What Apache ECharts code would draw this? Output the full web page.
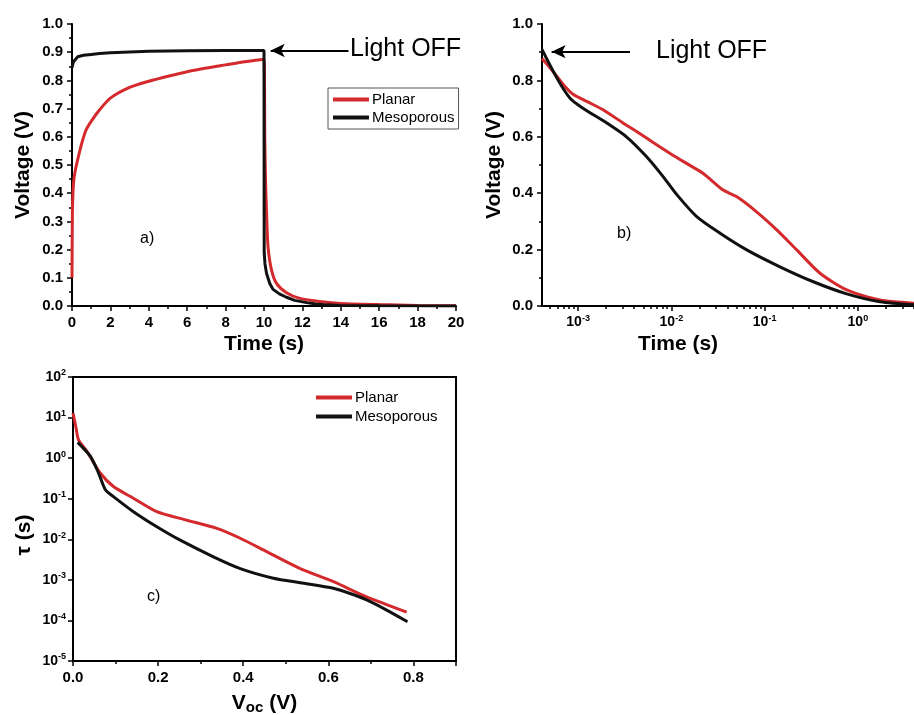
<!DOCTYPE html>
<html>
<head>
<meta charset="utf-8">
<script src="https://cdn.jsdelivr.net/npm/echarts@6/dist/echarts.min.js"></script>
<style>html,body{margin:0;padding:0;background:#fff;}#c{width:914px;height:715px;}</style>
</head>
<body>
<div id="c"></div>
<script>
// ---------- data ----------
// Panel a) transient Voc vs time (linear)
const aTimePlanar = [0, 0.02, 0.05, 0.1, 0.2, 0.3, 0.5, 0.73, 1.0, 1.43, 2, 3, 4, 5, 6, 7, 8, 9, 10, 10.04, 10.08, 10.14, 10.21, 10.39, 10.65, 11.17, 11.87, 13, 14, 16, 18, 20];
const aVoltPlanar = [0.10, 0.33, 0.40, 0.45, 0.49, 0.52, 0.575, 0.624, 0.655, 0.695, 0.737, 0.775, 0.797, 0.815, 0.831, 0.844, 0.855, 0.866, 0.875, 0.60, 0.447, 0.317, 0.21, 0.128, 0.08, 0.047, 0.027, 0.015, 0.009, 0.005, 0.002, 0.0005];
const aTimeMeso = [0, 0.05, 0.1, 0.3, 0.6, 1.0, 1.43, 2, 3, 4, 6, 8, 10, 10.01, 10.05, 10.13, 10.3, 10.47, 10.8, 11.17, 11.6, 12.22, 12.7, 13.26, 14, 16, 20];
const aVoltMeso = [0.845, 0.86, 0.868, 0.884, 0.889, 0.892, 0.895, 0.898, 0.901, 0.903, 0.905, 0.906, 0.906, 0.19, 0.15, 0.116, 0.08, 0.059, 0.043, 0.031, 0.02, 0.012, 0.007, 0.004, 0.002, 0.001, 0.0];
// Panel b) decay vs log time
const bTimePlanar = [0.00041, 0.0005, 0.0007, 0.00089, 0.00125, 0.00187, 0.003, 0.00427, 0.0065, 0.0097, 0.015, 0.022, 0.036, 0.05, 0.082, 0.135, 0.221, 0.393, 0.76, 1.73, 4.0];
const bVoltPlanar = [0.878, 0.845, 0.784, 0.75, 0.725, 0.695, 0.65, 0.618, 0.578, 0.541, 0.503, 0.47, 0.411, 0.388, 0.334, 0.27, 0.199, 0.116, 0.057, 0.021, 0.01];
const bTimeMeso = [0.00041, 0.00082, 0.00205, 0.0033, 0.0054, 0.0082, 0.0115, 0.0187, 0.0333, 0.0643, 0.146, 0.333, 0.76, 1.73, 4.0];
const bVoltMeso = [0.91, 0.737, 0.648, 0.60, 0.53, 0.458, 0.394, 0.317, 0.258, 0.199, 0.139, 0.086, 0.043, 0.015, 0.004];
// Panel c) lifetime vs Voc
const cVocPlanar = [0.0, 0.0065, 0.013, 0.033, 0.064, 0.095, 0.142, 0.197, 0.26, 0.338, 0.393, 0.456, 0.534, 0.612, 0.69, 0.784];
const cTauPlanar = [12.9, 6.1, 2.83, 1.46, 0.43, 0.2, 0.103, 0.048, 0.031, 0.0186, 0.0106, 0.0049, 0.0019, 0.0009, 0.00038, 0.00016];
const cVocMeso = [0.011, 0.041, 0.06, 0.076, 0.095, 0.142, 0.197, 0.252, 0.33, 0.393, 0.471, 0.534, 0.612, 0.651, 0.69, 0.737, 0.786];
const cTauMeso = [2.44, 1.1, 0.43, 0.166, 0.113, 0.048, 0.0204, 0.0095, 0.0037, 0.0019, 0.0011, 0.00085, 0.00062, 0.00046, 0.00032, 0.00018, 0.000093];
// tick values
const bMajorTicks = [0.001, 0.01, 0.1, 1];
const bMinorTicks = [0.0005, 0.0006, 0.0007, 0.0008, 0.0009, 0.002, 0.003, 0.004, 0.005, 0.006, 0.007, 0.008, 0.009, 0.02, 0.03, 0.04, 0.05, 0.06, 0.07, 0.08, 0.09, 0.2, 0.3, 0.4, 0.5, 0.6, 0.7, 0.8, 0.9, 2, 3, 4];
const cMajorTicks = [1e-5, 1e-4, 1e-3, 1e-2, 1e-1, 1, 10, 100];
const seriesNames = ['Planar', 'Mesoporous'];

// ---------- styling ----------
const F = 'Liberation Sans, Arial, sans-serif';
const RED = '#d42a2d', BLK = '#111111';
const zip = (xs, ys) => xs.map((x, i) => [x, ys[i]]);
const lineAxis = { show: true, lineStyle: { color: '#000', width: 2 } };
const tick = { show: true, length: 5, lineStyle: { color: '#000', width: 1.5 } };
const minor = (n) => ({ show: true, splitNumber: n, length: 3, lineStyle: { color: '#000', width: 1.5 } });
const lab = (extra) => Object.assign({ color: '#000', fontFamily: F, fontWeight: 'bold', fontSize: 15, margin: 9 }, extra || {});
const nameStyle = (extra) => Object.assign({ color: '#000', fontFamily: F, fontWeight: 'bold', fontSize: 21 }, extra || {});
const powRich = {
  b: { fontSize: 14, fontWeight: 'bold', fontFamily: F, color: '#000', lineHeight: 17 },
  s: { fontSize: 9, fontWeight: 'bold', fontFamily: F, color: '#000', lineHeight: 9, verticalAlign: 'top' }
};
const powFmt = (v) => '{b|10}{s|' + Math.round(Math.log10(v)) + '}';

function line(name, data, color, x, y, extra) {
  return Object.assign({
    name: name, type: 'line', xAxisIndex: x, yAxisIndex: y, data: data,
    showSymbol: false, symbol: 'none', clip: true,
    smooth: 0.25,
    lineStyle: { color: color, width: 3 }, itemStyle: { color: color },
    animation: false
  }, extra || {});
}
function arrowMark(from, to) {
  return {
    silent: true, symbol: ['none', 'arrow'], symbolSize: [10, 14],
    lineStyle: { color: '#000', width: 2, type: 'solid' }, label: { show: false },
    data: [[{ coord: from }, { coord: to }]]
  };
}

const option = {
  backgroundColor: '#fff',
  animation: false,
  grid: [
    { left: 72, top: 24, width: 384, height: 282, outerBoundsMode: 'none' },
    { left: 542, top: 24, width: 372, height: 282, outerBoundsMode: 'none' },
    { left: 73, top: 377, width: 383, height: 284, outerBoundsMode: 'none', show: true, borderColor: '#000', borderWidth: 2, backgroundColor: 'transparent' }
  ],
  xAxis: [
    { gridIndex: 0, type: 'value', min: 0, max: 20, interval: 2, position: 'bottom',
      axisLine: lineAxis, axisTick: tick, minorTick: minor(2), splitLine: { show: false },
      axisLabel: lab(), name: 'Time (s)', nameLocation: 'middle', nameGap: 28, nameTextStyle: nameStyle() },
    { gridIndex: 1, type: 'log', logBase: 10, min: 0.00041, max: 4, position: 'bottom',
      axisLine: lineAxis, axisTick: Object.assign({}, tick, { customValues: bMajorTicks }), splitLine: { show: false },
      axisLabel: lab({ customValues: bMajorTicks, formatter: powFmt, rich: powRich, margin: 8 }),
      name: 'Time (s)', nameLocation: 'middle', nameGap: 28, nameTextStyle: nameStyle({ padding: [0, 100, 0, 0] }) },
    { gridIndex: 1, type: 'log', logBase: 10, min: 0.00041, max: 4, position: 'bottom',
      axisLine: { show: false }, axisTick: { show: true, length: 3, lineStyle: { color: '#000', width: 1.5 }, customValues: bMinorTicks },
      axisLabel: { show: false }, splitLine: { show: false } },
    { gridIndex: 2, type: 'value', min: 0, max: 0.9, interval: 0.2, position: 'bottom',
      axisLine: lineAxis, axisTick: tick, minorTick: minor(2), splitLine: { show: false },
      axisLabel: lab({ showMaxLabel: false, formatter: (v) => v.toFixed(1) }),
      name: '{v|V}{sub|oc}{v| (V)}', nameLocation: 'middle', nameGap: 28,
      nameTextStyle: nameStyle({ rich: {
        v: { fontSize: 21, fontWeight: 'bold', fontFamily: F, color: '#000', lineHeight: 24 },
        sub: { fontSize: 15, fontWeight: 'bold', fontFamily: F, color: '#000', lineHeight: 15, verticalAlign: 'bottom', padding: [14, 0, 0, 0] } } }) }
  ],
  yAxis: [
    { gridIndex: 0, type: 'value', min: 0, max: 1, interval: 0.1,
      axisLine: lineAxis, axisTick: tick, minorTick: minor(2), splitLine: { show: false },
      axisLabel: lab({ formatter: (v) => v.toFixed(1) }),
      name: 'Voltage (V)', nameLocation: 'middle', nameGap: 38, nameTextStyle: nameStyle() },
    { gridIndex: 1, type: 'value', min: 0, max: 1, interval: 0.2,
      axisLine: lineAxis, axisTick: tick, minorTick: minor(2), splitLine: { show: false },
      axisLabel: lab({ formatter: (v) => v.toFixed(1) }),
      name: 'Voltage (V)', nameLocation: 'middle', nameGap: 37, nameTextStyle: nameStyle() },
    { gridIndex: 2, type: 'log', logBase: 10, min: 1e-5, max: 100,
      axisLine: lineAxis, axisTick: Object.assign({}, tick, { customValues: cMajorTicks }), splitLine: { show: false },
      axisLabel: lab({ customValues: cMajorTicks, formatter: powFmt, rich: powRich, margin: 7 }),
      name: 'τ (s)', nameLocation: 'middle', nameGap: 38, nameTextStyle: nameStyle({ padding: [0, 32, 0, 0] }) }
  ],
  legend: [
    { data: seriesNames, orient: 'vertical', left: 328, top: 88, padding: [4, 4, 4, 5], itemGap: 3,
      icon: 'rect', itemWidth: 36, itemHeight: 4, borderColor: '#555', borderWidth: 1,
      textStyle: { fontFamily: F, fontSize: 15, color: '#000', padding: [0, 0, 0, -2] }, selectedMode: false },
    { data: seriesNames, orient: 'vertical', left: 316, top: 390, padding: 0, itemGap: 4,
      icon: 'rect', itemWidth: 36, itemHeight: 4,
      textStyle: { fontFamily: F, fontSize: 15, color: '#000', padding: [0, 0, 0, -2] }, selectedMode: false }
  ],
  graphic: [
    { type: 'text', left: 350, top: 37, style: { text: 'Light OFF', font: '25px ' + F, fill: '#000' } },
    { type: 'text', left: 656, top: 39, style: { text: 'Light OFF', font: '25px ' + F, fill: '#000' } },
    { type: 'text', left: 140, top: 231, style: { text: 'a)', font: '16px ' + F, fill: '#000' } },
    { type: 'text', left: 617, top: 226, style: { text: 'b)', font: '16px ' + F, fill: '#000' } },
    { type: 'text', left: 147, top: 589, style: { text: 'c)', font: '16px ' + F, fill: '#000' } }
  ],
  series: [
    line('Planar', zip(aTimePlanar, aVoltPlanar), RED, 0, 0),
    line('Mesoporous', zip(aTimeMeso, aVoltMeso), BLK, 0, 0, { smooth: false, markLine: arrowMark([14.4, 0.906], [10.35, 0.906]) }),
    line('Planar', zip(bTimePlanar, bVoltPlanar), RED, 1, 1),
    line('Mesoporous', zip(bTimeMeso, bVoltMeso), BLK, 1, 1, { markLine: arrowMark([0.0036, 0.902], [0.00052, 0.902]) }),
    line('Planar', zip(cVocPlanar, cTauPlanar), RED, 3, 2),
    line('Mesoporous', zip(cVocMeso, cTauMeso), BLK, 3, 2)
  ]
};
const chart = echarts.init(document.getElementById('c'), null, { renderer: 'canvas' });
chart.setOption(option);
</script>
</body>
</html>
